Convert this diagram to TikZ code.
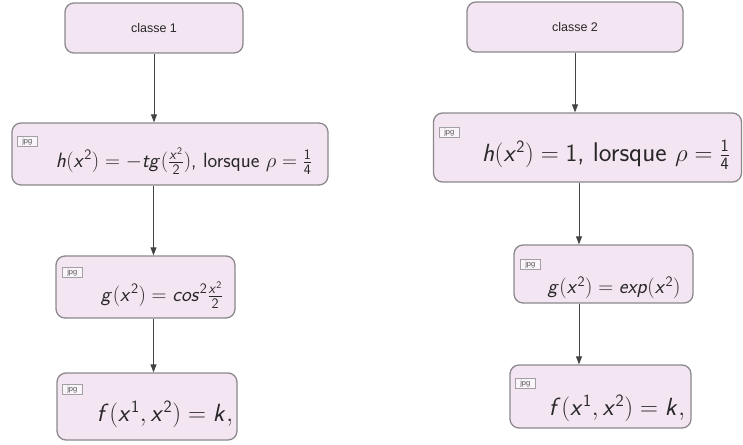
\documentclass[tikz,border=0pt]{standalone}
\usepackage{fontspec}
\newfontfamily\arialf{Liberation Sans}
\DeclareMathAlphabet{\mathsi}{OT1}{cmss}{m}{sl}
\DeclareMathAlphabet{\mathsu}{OT1}{cmss}{m}{n}
\newcommand\vv[1]{\mathsi{#1}}
\newcommand\dd[1]{\mathsu{#1}}
\usetikzlibrary{arrows.meta}
\definecolor{boxfill}{RGB}{243,229,242}
\definecolor{boxdraw}{RGB}{140,136,140}
\definecolor{arrcol}{RGB}{68,68,68}
\definecolor{txtcol}{RGB}{40,40,40}
\tikzset{
  stepbox/.style={draw=boxdraw, line width=1.3pt, fill=boxfill, rounded corners=9pt, inner sep=0pt},
  tagbox/.style={draw=boxdraw!80, line width=0.6pt, fill=boxfill!40, inner sep=0pt, minimum width=20pt, minimum height=10pt, anchor=north west, font=\arialf\fontsize{7.5}{7.5}\selectfont, text=txtcol!80},
  formula/.style={inner sep=0pt, text=txtcol},
  classfont/.style={font=\arialf\fontsize{12.5}{14}\selectfont, text=txtcol},
  arr/.style={draw=arrcol, line width=0.9pt, -{Triangle[length=8pt,width=6pt]}},
}
\begin{document}
\begin{tikzpicture}[x=1pt,y=-1pt]
\useasboundingbox (0,0) rectangle (743,444);
% left column
\node[stepbox, classfont, minimum width=178pt, minimum height=50pt] (c1) at (154,28) {classe 1};
\node[stepbox, minimum width=316pt, minimum height=62pt] (h1) at (170,154) {};
\node[stepbox, minimum width=179pt, minimum height=62pt] (g1) at (145.5,287) {};
\node[stepbox, minimum width=180pt, minimum height=67pt] (f1) at (147,406.5) {};
% right column
\node[stepbox, classfont, minimum width=216pt, minimum height=50pt] (c2) at (575,27) {classe 2};
\node[stepbox, minimum width=308pt, minimum height=69pt] (h2) at (587.5,147.5) {};
\node[stepbox, minimum width=179pt, minimum height=58pt] (g2) at (603.5,274) {};
\node[stepbox, minimum width=181pt, minimum height=63pt] (f2) at (600.5,396.5) {};
% tags
\node[tagbox] (t1) at (17,136) {jpg};
\node[tagbox] (t2) at (62,267) {jpg};
\node[tagbox] (t3) at (62,384) {jpg};
\node[tagbox] (t4) at (439,127) {jpg};
\node[tagbox] (t5) at (520,259) {jpg};
\node[tagbox] (t6) at (515,378) {jpg};
% formulas
\node[formula, font=\sffamily\fontsize{20.6}{24}\selectfont] (e1) at (184,161) {$\vv{h}(\vv{x}^{\dd{2}}) = -\vv{tg}(\frac{\vv{x}^{\dd{2}}}{\dd{2}})$, lorsque $\rho = \frac{\dd{1}}{\dd{4}}$};
\node[formula, font=\sffamily\fontsize{19.5}{23}\selectfont] (e2) at (162,295) {$\vv{g}(\vv{x}^{\dd{2}}) = \vv{cos}^{\dd{2}}\frac{\vv{x}^{\dd{2}}}{\dd{2}}$};
\node[formula, font=\sffamily\fontsize{24}{28}\selectfont] (e3) at (165,414) {$\vv{f}(\vv{x}^{\dd{1}}, \vv{x}^{\dd{2}}) = \vv{k},$};
\node[formula, font=\sffamily\fontsize{27}{31}\selectfont] (e4) at (606,155) {$\vv{h}(\vv{x}^{\dd{2}}) = \dd{1}$, lorsque $\rho = \frac{\dd{1}}{\dd{4}}$};
\node[formula, font=\sffamily\fontsize{20}{24}\selectfont] (e5) at (614,288) {$\vv{g}(\vv{x}^{\dd{2}}) = \vv{exp}(\vv{x}^{\dd{2}})$};
\node[formula, font=\sffamily\fontsize{24}{28}\selectfont] (e6) at (617,408) {$\vv{f}(\vv{x}^{\dd{1}}, \vv{x}^{\dd{2}}) = \vv{k},$};
% connector x positions
\coordinate (lx) at (153.5,0);
\coordinate (rx) at (579,0);
\draw[arr] (c1.south) -- (c1.south |- h1.north);
\draw[arr] (h1.south -| lx) -- (g1.north -| lx);
\draw[arr] (g1.south -| lx) -- (f1.north -| lx);
\draw[arr] (c2.south) -- (c2.south |- h2.north);
\draw[arr] (h2.south -| rx) -- (g2.north -| rx);
\draw[arr] (g2.south -| rx) -- (f2.north -| rx);
\end{tikzpicture}
\end{document}
